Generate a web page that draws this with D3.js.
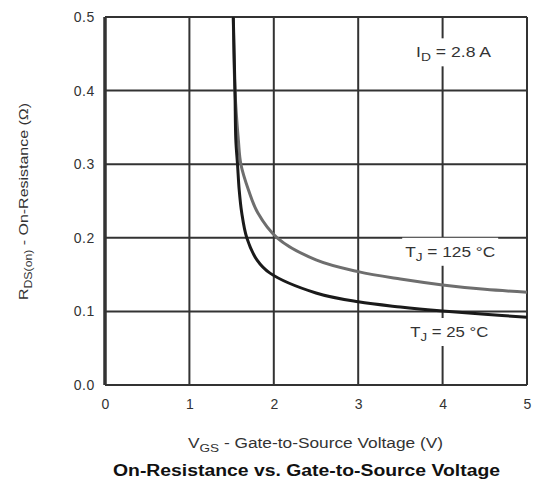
<!DOCTYPE html>
<html>
<head>
<meta charset="utf-8">
<script src="https://cdn.jsdelivr.net/npm/d3@7"></script>
<style>
  body { margin: 0; background: #fff; }
  text { font-family: "Liberation Sans", Arial, sans-serif; }
</style>
</head>
<body>
<div id="chart"></div>
<script>
// data
var xTicks = [0, 1, 2, 3, 4, 5];
var yTicks = [0, 0.1, 0.2, 0.3, 0.4, 0.5];

var vgs25  = [1.52, 1.54, 1.55, 1.57, 1.59, 1.62, 1.68, 1.8, 1.955, 2.5, 3.0, 3.5, 4.0, 4.5, 5.0];
var rds25  = [0.5, 0.4, 0.333, 0.3, 0.265, 0.234, 0.2, 0.17, 0.152, 0.125, 0.113, 0.106, 0.1005, 0.096, 0.092];

var vgs125 = [1.52, 1.54, 1.58, 1.61, 1.70, 1.81, 2.04, 2.5, 3.0, 3.5, 4.0, 4.5, 5.0];
var rds125 = [0.5, 0.4, 0.333, 0.3, 0.265, 0.234, 0.2, 0.17, 0.154, 0.144, 0.136, 0.13, 0.126];

var margin = {top: 17, right: 10, bottom: 103, left: 105};

var svg = d3.select('#chart')
            .append('svg')
            .attr('width', 537)
            .attr('height', 488);

var g = svg.append('g')
           .attr('transform', 'translate(' + margin.left + ',' + margin.top + ')');

var x = d3.scaleLinear().domain([0, 5]).range([0, 422]);
var y = d3.scaleLinear().domain([0, 0.5]).range([368, 0]);

//grid
g.selectAll('.vgrid').data(xTicks).enter().append('line')
  .attr('x1', function(d){ return x(d) }).attr('x2', function(d){ return x(d) })
  .attr('y1', 0).attr('y2', y(0))
  .attr('stroke', '#333').attr('stroke-width', function(d){ return d == 0 ? 3.5 : 2 });
g.selectAll('.hgrid').data(yTicks).enter().append('line')
  .attr('x1', 0).attr('x2', x(5))
  .attr('y1', function(d){ return y(d) }).attr('y2', function(d){ return y(d) })
  .attr('stroke', '#333').attr('stroke-width', 2);

//axes labels
var xAxis = g.append('g')
  .attr('transform', 'translate(0,' + y(0) + ')')
  .call(d3.axisBottom(x).tickValues(xTicks).tickSize(0).tickPadding(14).tickFormat(d3.format('d')));
xAxis.select('.domain').remove();
xAxis.selectAll('text').attr('font-size', '14px').attr('fill', '#333')
  .style('font-family', '"Liberation Sans", Arial, sans-serif');

var yAxis = g.append('g')
  .call(d3.axisLeft(y).tickValues(yTicks).tickSize(0).tickPadding(10).tickFormat(d3.format('.1f')));
yAxis.select('.domain').remove();
yAxis.selectAll('text').attr('font-size', '14px').attr('fill', '#333').attr('letter-spacing', '0.6px')
  .style('font-family', '"Liberation Sans", Arial, sans-serif');

//curves
var line = d3.line()
  .x(function(d){ return x(d[0]) })
  .y(function(d){ return y(d[1]) })
  .curve(d3.curveCatmullRom);

g.append('path')
  .datum(d3.zip(vgs125, rds125))
  .attr('d', line)
  .attr('fill', 'none').attr('stroke', '#6e6e6e').attr('stroke-width', 3);

g.append('path')
  .datum(d3.zip(vgs25, rds25))
  .attr('d', line)
  .attr('fill', 'none').attr('stroke', '#1a1a1a').attr('stroke-width', 3);

//annotations with white boxes breaking the grid
function note(cx, cy, main, sub, rest, w, len) {
  g.append('rect').attr('x', cx - w / 2).attr('y', cy - 14).attr('width', w).attr('height', 28).attr('fill', '#fff');
  var t = g.append('text').attr('x', cx - len / 2).attr('y', cy + 5)
    .attr('font-size', '14px').attr('fill', '#333')
    .attr('textLength', len).attr('lengthAdjust', 'spacingAndGlyphs');
  t.append('tspan').text(main);
  t.append('tspan').attr('dy', 4).attr('font-size', '11px').text(sub);
  t.append('tspan').attr('dy', -4).text(rest);
}
note(x(4.13), y(0.452), 'I', 'D', ' = 2.8 A', 80, 75);
note(x(4.09), y(0.181), 'T', 'J', ' = 125 °C', 96, 90);
note(x(4.08), y(0.072), 'T', 'J', ' = 25 °C', 84, 78);

//y label
var yl = svg.append('text')
  .attr('transform', 'translate(28,' + 300 + ') rotate(-90)')
  .attr('font-size', '13px').attr('fill', '#333')
  .attr('textLength', 197).attr('lengthAdjust', 'spacingAndGlyphs');
yl.append('tspan').text('R');
yl.append('tspan').attr('dy', 4).attr('font-size', '10px').text('DS(on)');
yl.append('tspan').attr('dy', -4).text(' - On-Resistance (Ω)');

//x label
var xl = svg.append('text')
  .attr('x', 188).attr('y', 448)
  .attr('font-size', '14px').attr('fill', '#333')
  .attr('textLength', 255).attr('lengthAdjust', 'spacingAndGlyphs');
xl.append('tspan').text('V');
xl.append('tspan').attr('dy', 4).attr('font-size', '11px').text('GS');
xl.append('tspan').attr('dy', -4).text(' - Gate-to-Source Voltage (V)');

//title
svg.append('text')
  .attr('x', 113).attr('y', 476)
  .attr('font-size', '16px').attr('font-weight', 'bold').attr('fill', '#111')
  .attr('textLength', 387).attr('lengthAdjust', 'spacingAndGlyphs')
  .text('On-Resistance vs. Gate-to-Source Voltage');
</script>
</body>
</html>
